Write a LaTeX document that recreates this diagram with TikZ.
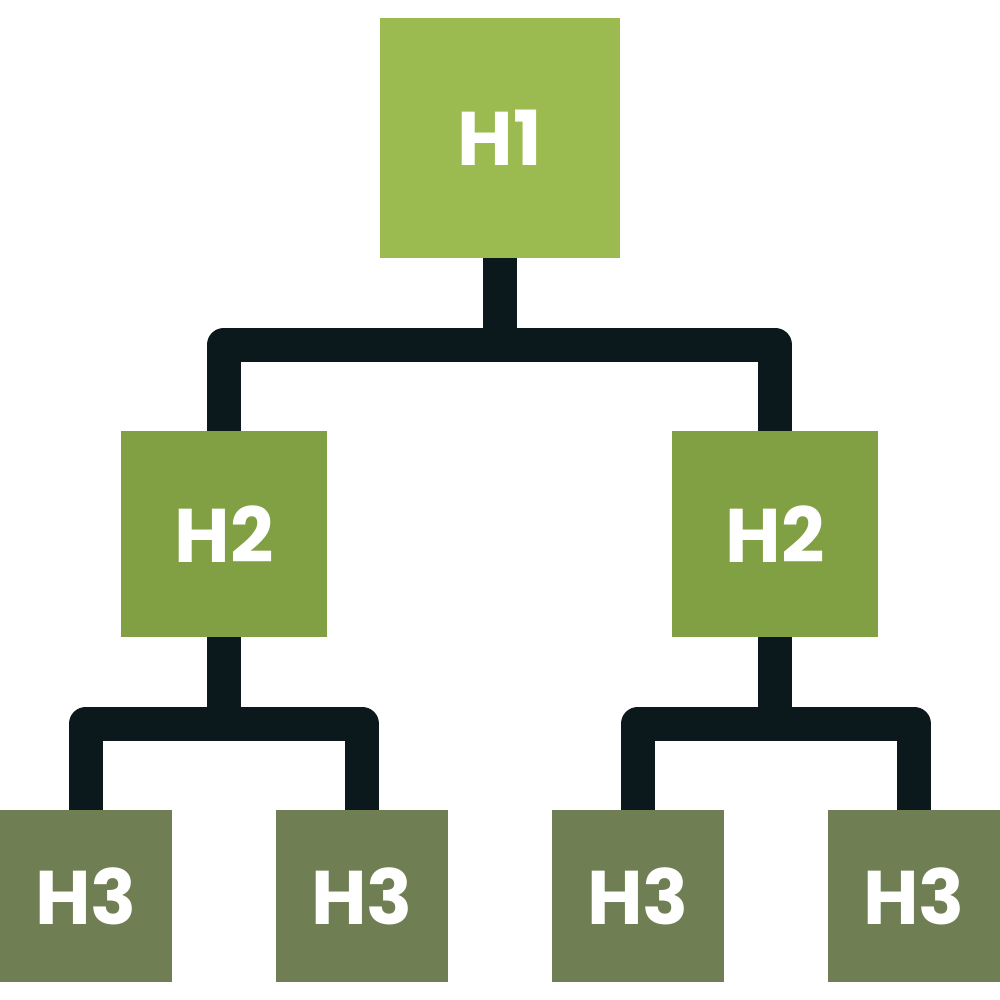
\documentclass[tikz,border=0pt]{standalone}
\usepackage{fontspec}
\setmainfont{Poppins}
\begin{document}
\begin{tikzpicture}[x=1pt,y=-1pt,
  box/.style={draw=none,inner sep=0pt,minimum size=#1,text=white,font=\fontsize{76}{76}\selectfont\bfseries},
  conn/.style={draw=linkcol,line width=34pt,line join=round,line cap=butt}]
\definecolor{hone}{HTML}{9BBA50}
\definecolor{htwo}{HTML}{80A043}
\definecolor{hthree}{HTML}{6F7E53}
\definecolor{linkcol}{HTML}{0B191C}
\useasboundingbox (0,0) rectangle (1000,1000);
\node[box=240pt,fill=hone] (h1) at (500,138) {H1};
\node[box=206pt,fill=htwo] (h2l) at (224,534) {H2};
\node[box=206pt,fill=htwo] (h2r) at (775,534) {H2};
\node[box=172pt,fill=hthree] (h3a) at (86,896) {H3};
\node[box=172pt,fill=hthree] (h3b) at (362,896) {H3};
\node[box=172pt,fill=hthree] (h3c) at (638,896) {H3};
\node[box=172pt,fill=hthree] (h3d) at (914,896) {H3};
\coordinate (j1) at (500,344.5);
\coordinate (j2) at (224,723.5);
\coordinate (j3) at (775,723.5);
\draw[conn] (h1.south) -- (j1);
\draw[conn] (h2l.north) |- (j1) -| (h2r.north);
\draw[conn] (h2l.south) -- (j2);
\draw[conn] (h3a.north) |- (j2) -| (h3b.north);
\draw[conn] (h2r.south) -- (j3);
\draw[conn] (h3c.north) |- (j3) -| (h3d.north);
\end{tikzpicture}
\end{document}
